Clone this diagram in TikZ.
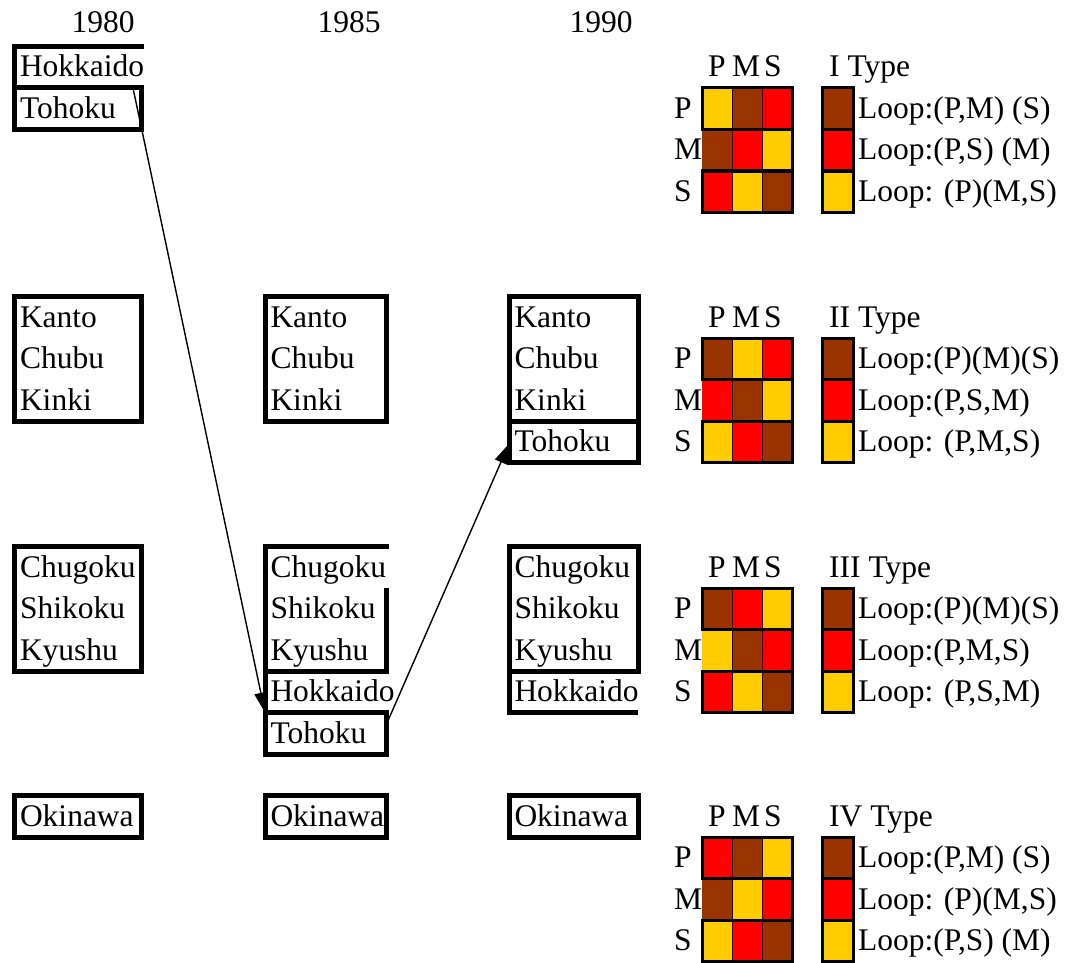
\documentclass[tikz,border=0pt]{standalone}
\usepackage{fontspec}
\setmainfont{Liberation Serif}
\usetikzlibrary{arrows.meta, positioning}
\hyphenpenalty=10000
\definecolor{loopbrown}{HTML}{993300}
\definecolor{loopred}{HTML}{FF0000}
\definecolor{loopyellow}{HTML}{FFCC00}
\newcommand{\cellrow}[4]{%
    \fill[#2] (702,#1) rectangle ++(30.3,41.5);
    \fill[#3] (732.3,#1) rectangle ++(30.3,41.5);
    \fill[#4] (762.6,#1) rectangle ++(30.3,41.5);}
\tikzset{
    txt/.style={anchor=base west, inner sep=0pt, font=\fontsize{31.5}{41.5}\selectfont},
    rbox/.style={rectangle, anchor=north west, inner xsep=5.5pt, inner ysep=0pt, outer sep=0pt, align=left, text height=30.5pt, text depth=11pt, font=\fontsize{31.5}{41.5}\selectfont},
    three/.style={text depth=94pt},
    framed/.style={rbox, draw=black, line width=5pt},
    rim/.style={draw=black, line width=5pt},
    col80/.style={text width=115.5pt},
    col85/.style={text width=110pt},
    col90/.style={text width=118pt},
    gridframe/.style={draw=black, line width=3pt},
    gridline/.style={draw=black, line width=1.5pt},
    link/.style={line width=1.4pt, -{Triangle[length=20pt, width=13pt]}}
}

\begin{document}
\begin{tikzpicture}[x=1pt, y=-1pt]
    \useasboundingbox (0,0) rectangle (1071,963);

    % Years
    \node (y1980) [txt, anchor=base] at (103,33) {1980};
    \node (y1985) [txt, anchor=base] at (349,33) {1985};
    \node (y1990) [txt, anchor=base] at (601,33) {1990};

    % Regions 1980
    \node (hokkaido80) [rbox, col80] at (14.5,46.5) {Hokkaido};
    \node (tohoku80) [framed, col80, below=0pt of hokkaido80] {Tohoku};
    \node (kanto80) [framed, three, col80] at (14.5,296.5) {Kanto\\Chubu\\Kinki};
    \node (chugoku80) [framed, three, col80] at (14.5,546.5) {Chugoku\\Shikoku\\Kyushu};
    \node (okinawa80) [framed, col80] at (14.5,795.5) {Okinawa};

    % Regions 1985
    \node (kanto85) [framed, three, col85, right=124pt of kanto80] {Kanto\\Chubu\\Kinki};
    \node (chugoku85) [rbox, three, col85, right=124pt of chugoku80] {Chugoku\\Shikoku\\Kyushu};
    \node (hokkaido85) [rbox, col85, below=0pt of chugoku85] {Hokkaido};
    \node (tohoku85) [framed, col85, below=0pt of hokkaido85] {Tohoku};
    \node (okinawa85) [framed, col85, right=124pt of okinawa80] {Okinawa};

    % Regions 1990
    \node (kanto90) [framed, three, col90, right=123pt of kanto85] {Kanto\\Chubu\\Kinki};
    \node (tohoku90) [framed, col90, below=0pt of kanto90] {Tohoku};
    \node (chugoku90) [framed, three, col90, right=123pt of chugoku85] {Chugoku\\Shikoku\\Kyushu};
    \node (hokkaido90) [rbox, col90, below=0pt of chugoku90] {Hokkaido};
    \node (okinawa90) [framed, col90, right=123pt of okinawa85] {Okinawa};

    % Open frames
    \draw [rim] (hokkaido80.south west) -- (hokkaido80.north west) -- ([xshift=2.5pt]hokkaido80.north east);
    \draw [rim] (hokkaido85.south west) -- (chugoku85.north west) -- ([xshift=2.5pt]chugoku85.north east);
    \draw [rim] ([yshift=-41.5pt]chugoku85.north east) -- (chugoku85.south east) -- (chugoku85.south west);
    \draw [rim] (hokkaido90.north west) -- (hokkaido90.south west) -- (hokkaido90.south east);

    % Arrows
    \draw [link] ([xshift=-8pt]tohoku80.north east) -- (tohoku85.north west);
    \draw [link] ([yshift=8pt]tohoku85.east) -- ([yshift=-2pt]tohoku90.west);

    % Type grids
    \foreach \B/\T in {77/I, 327/II, 577/III, 826/IV}{
        \node (type\T) [txt] at (829,\B) {\T\ Type};
        \node (headP\T) [txt, anchor=base] at (717,\B) {P};
        \node (headM\T) [txt, anchor=base] at (746,\B) {M};
        \node (headS\T) [txt, anchor=base] at (773,\B) {S};
        \node (sideP\T) [txt] at (674,\B+41.5) {P};
        \node (sideM\T) [txt] at (674,\B+83) {M};
        \node (sideS\T) [txt] at (674,\B+124.5) {S};
        \fill[loopbrown] (822,\B+11) rectangle ++(31,41.5);
        \fill[loopred] (822,\B+52.5) rectangle ++(31,41.5);
        \fill[loopyellow] (822,\B+94) rectangle ++(31,41.5);
    }

    % Type I
    \cellrow{88}{loopyellow}{loopbrown}{loopred}
    \cellrow{129.5}{loopbrown}{loopred}{loopyellow}
    \cellrow{171}{loopred}{loopyellow}{loopbrown}
    \node (loopIa) [txt] at (858,118.5) {Loop:(P,M) (S)};
    \node (loopIb) [txt] at (858,160) {Loop:(P,S) (M)};
    \node (loopIc) [txt] at (858,201.5) {Loop: (P)(M,S)};

    % Type II
    \cellrow{338}{loopbrown}{loopyellow}{loopred}
    \cellrow{379.5}{loopred}{loopbrown}{loopyellow}
    \cellrow{421}{loopyellow}{loopred}{loopbrown}
    \node (loopIIa) [txt] at (858,368.5) {Loop:(P)(M)(S)};
    \node (loopIIb) [txt] at (858,410) {Loop:(P,S,M)};
    \node (loopIIc) [txt] at (858,451.5) {Loop: (P,M,S)};

    % Type III
    \cellrow{588}{loopbrown}{loopred}{loopyellow}
    \cellrow{629.5}{loopyellow}{loopbrown}{loopred}
    \cellrow{671}{loopred}{loopyellow}{loopbrown}
    \node (loopIIIa) [txt] at (858,618.5) {Loop:(P)(M)(S)};
    \node (loopIIIb) [txt] at (858,660) {Loop:(P,M,S)};
    \node (loopIIIc) [txt] at (858,701.5) {Loop: (P,S,M)};

    % Type IV
    \cellrow{837}{loopred}{loopbrown}{loopyellow}
    \cellrow{878.5}{loopbrown}{loopyellow}{loopred}
    \cellrow{920}{loopyellow}{loopred}{loopbrown}
    \node (loopIVa) [txt] at (858,867.5) {Loop:(P,M) (S)};
    \node (loopIVb) [txt] at (858,909) {Loop: (P)(M,S)};
    \node (loopIVc) [txt] at (858,950.5) {Loop:(P,S) (M)};

    % Grid lines
    \foreach \B in {77,327,577,826}{
        \draw [gridline] (732.3,\B+11) -- (732.3,\B+135.5) (762.6,\B+11) -- (762.6,\B+135.5);
        \draw [gridframe] (702,\B+11) rectangle (792.9,\B+52.5) (702,\B+94) rectangle (792.9,\B+135.5) (792.9,\B+52.5) -- (792.9,\B+94);
        \draw [gridframe] (822,\B+11) rectangle (853,\B+135.5) (822,\B+52.5) -- (853,\B+52.5) (822,\B+94) -- (853,\B+94);
    }
\end{tikzpicture}
\end{document}
